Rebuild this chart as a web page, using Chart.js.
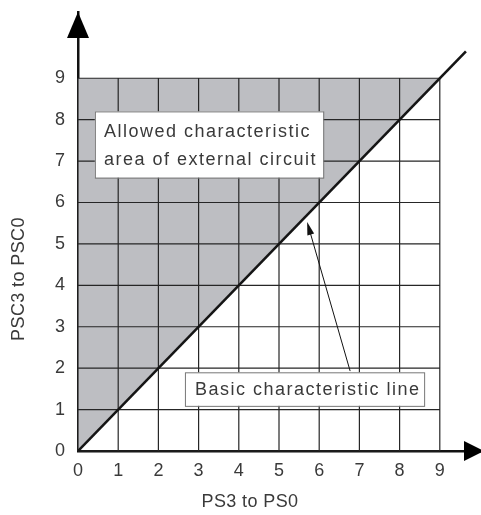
<!DOCTYPE html>
<html>
<head>
<meta charset="utf-8">
<script src="https://cdn.jsdelivr.net/npm/chart.js@4.4.0/dist/chart.umd.min.js"></script>
<style>
  body { margin: 0; background: #fff; }
  #wrap { width: 481px; height: 515px; }
</style>
</head>
<body>
<div id="wrap"><canvas id="myChart" width="481" height="515"></canvas></div>
<script>
// datos
const ticksX = [0, 1, 2, 3, 4, 5, 6, 7, 8, 9]
const ticksY = [0, 1, 2, 3, 4, 5, 6, 7, 8, 9]
const areaX = [0, 9]
const areaY = [0, 9]
const areaTope = 9
const lineaX = [0, 9.65]
const lineaY = [0, 9.65]
const tituloX = 'PS3 to PS0'
const tituloY = 'PSC3 to PSC0'
const textoArea = ['Allowed characteristic', 'area of external circuit']
const textoLinea = 'Basic characteristic line'

const fuente = '"Liberation Sans", Arial, sans-serif'
const colorTexto = '#3a3a3a'

function puntos(xs, ys) {
    return xs.map((x, i) => ({x: x, y: ys[i]}))
}

/*
    dibuja la cuadricula sobre el area gris, cajas de texto, flechas y titulos
*/
const extras = {
    id: 'extras',
    afterDatasetDraw(chart, args) {
        if (args.index !== 0) return
        const ctx = chart.ctx
        const sx = chart.scales.x, sy = chart.scales.y
        const x0 = sx.getPixelForValue(ticksX[0]), x1 = sx.getPixelForValue(ticksX[ticksX.length - 1])
        const y0 = sy.getPixelForValue(ticksY[0]), y1 = sy.getPixelForValue(ticksY[ticksY.length - 1])
        ctx.save()
        ctx.strokeStyle = '#262626'
        ctx.lineWidth = 1.2
        ctx.beginPath()
        for (const v of ticksX) {
            const px = sx.getPixelForValue(v)
            ctx.moveTo(px, y0)
            ctx.lineTo(px, y1)
        }
        for (const v of ticksY) {
            const py = sy.getPixelForValue(v)
            ctx.moveTo(x0, py)
            ctx.lineTo(x1, py)
        }
        ctx.stroke()
        ctx.restore()
    },
    afterDraw(chart) {
        const ctx = chart.ctx
        const sx = chart.scales.x, sy = chart.scales.y
        const px = v => sx.getPixelForValue(v)
        const py = v => sy.getPixelForValue(v)
        ctx.save()

        // flecha que apunta a la linea
        const ax0 = px(6.77), ay0 = py(1.93), ax1 = px(5.70), ay1 = py(5.53)
        const ang = Math.atan2(ay1 - ay0, ax1 - ax0)
        ctx.strokeStyle = '#111'
        ctx.lineWidth = 1
        ctx.beginPath()
        ctx.moveTo(ax0, ay0)
        ctx.lineTo(ax1 - 8 * Math.cos(ang), ay1 - 8 * Math.sin(ang))
        ctx.stroke()
        ctx.fillStyle = '#111'
        ctx.beginPath()
        ctx.moveTo(ax1, ay1)
        ctx.lineTo(ax1 - 13 * Math.cos(ang) + 3.5 * Math.sin(ang), ay1 - 13 * Math.sin(ang) - 3.5 * Math.cos(ang))
        ctx.lineTo(ax1 - 13 * Math.cos(ang) - 3.5 * Math.sin(ang), ay1 - 13 * Math.sin(ang) + 3.5 * Math.cos(ang))
        ctx.closePath()
        ctx.fill()

        // cajas de texto
        ctx.lineWidth = 1
        ctx.strokeStyle = '#777'
        ctx.fillStyle = '#fff'
        const b1 = [px(0.42), py(8.2), px(6.1), py(6.6)]
        ctx.fillRect(b1[0], b1[1], b1[2] - b1[0], b1[3] - b1[1])
        ctx.strokeRect(b1[0] + 0.5, b1[1] + 0.5, b1[2] - b1[0], b1[3] - b1[1])
        const b2 = [px(2.66), py(1.9), px(8.61), py(1.09)]
        ctx.fillRect(b2[0], b2[1], b2[2] - b2[0], b2[3] - b2[1])
        ctx.strokeRect(b2[0] + 0.5, b2[1] + 0.5, b2[2] - b2[0], b2[3] - b2[1])

        ctx.fillStyle = colorTexto
        ctx.font = '18px ' + fuente
        ctx.letterSpacing = '1.5px'
        ctx.textAlign = 'left'
        ctx.textBaseline = 'middle'
        ctx.fillText(textoArea[0], b1[0] + 9, b1[1] + 21)
        ctx.fillText(textoArea[1], b1[0] + 9, b1[1] + 49)
        ctx.fillText(textoLinea, b2[0] + 10, (b2[1] + b2[3]) / 2 + 1)
        ctx.letterSpacing = '0px'

        // puntas de los ejes
        ctx.fillStyle = '#000'
        const ox = px(0), oy = py(0)
        ctx.beginPath()
        ctx.moveTo(ox, chart.chartArea.top)
        ctx.lineTo(ox - 11, chart.chartArea.top + 26)
        ctx.lineTo(ox + 11, chart.chartArea.top + 26)
        ctx.closePath()
        ctx.fill()
        ctx.beginPath()
        ctx.moveTo(chart.chartArea.right + 4, oy)
        ctx.lineTo(chart.chartArea.right - 16, oy - 10)
        ctx.lineTo(chart.chartArea.right - 16, oy + 10)
        ctx.closePath()
        ctx.fill()

        // titulos de los ejes
        ctx.fillStyle = colorTexto
        ctx.font = '18px ' + fuente
        ctx.letterSpacing = '0.4px'
        ctx.textAlign = 'center'
        ctx.textBaseline = 'middle'
        ctx.fillText(tituloX, 250, 502)
        ctx.translate(19, 279)
        ctx.rotate(-Math.PI / 2)
        ctx.fillText(tituloY, 0, 0)
        ctx.restore()
    }
}

function generarGrafico() {
    const grafico = document.getElementById('myChart')
    new Chart(grafico, {
        type: 'scatter',
        data: {
            datasets: [{
                label: 'area',
                data: puntos(areaX, areaY),
                showLine: true,
                fill: {value: areaTope},
                backgroundColor: '#bdbec2',
                borderWidth: 0,
                pointRadius: 0,
                order: 2
            }, {
                label: 'linea',
                data: puntos(lineaX, lineaY),
                showLine: true,
                fill: false,
                borderColor: '#151515',
                borderWidth: 2.6,
                pointRadius: 0,
                order: 1
            }]
        },
        plugins: [extras],
        options: {
            responsive: false,
            animation: false,
            layout: {padding: {top: 12, right: 1, left: 0, bottom: 0}},
            plugins: {legend: {display: false}, tooltip: {enabled: false}},
            scales: {
                x: {
                    type: 'linear',
                    min: 0,
                    max: 10,
                    z: 1,
                    afterBuildTicks: s => { s.ticks = ticksX.map(v => ({value: v})) },
                    afterFit: s => { s.height = 64; s.paddingLeft = 0; s.paddingRight = 0 },
                    grid: {display: false, drawTicks: false},
                    border: {display: true, color: '#111', width: 2.5},
                    ticks: {
                        padding: 9,
                        autoSkip: false,
                        maxRotation: 0,
                        color: colorTexto,
                        font: {family: fuente, size: 18}
                    }
                },
                y: {
                    type: 'linear',
                    min: 0,
                    max: 10.6,
                    z: 1,
                    afterBuildTicks: s => { s.ticks = ticksY.map(v => ({value: v})) },
                    afterFit: s => { s.width = 78; s.paddingTop = 0; s.paddingBottom = 0 },
                    grid: {display: false, drawTicks: false},
                    border: {display: true, color: '#111', width: 2.5},
                    ticks: {
                        padding: 13,
                        autoSkip: false,
                        color: colorTexto,
                        font: {family: fuente, size: 18}
                    }
                }
            }
        }
    })
}

generarGrafico()
</script>
</body>
</html>
